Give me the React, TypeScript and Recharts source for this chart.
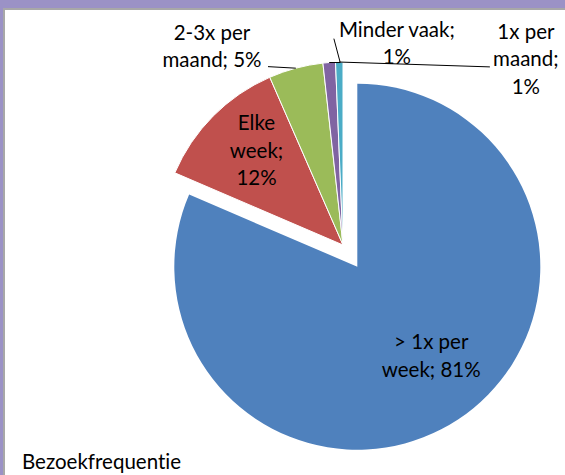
import React from 'react';
import { PieChart, Pie, Cell } from 'recharts';

const CATEGORIES = ['> 1x per week', 'Elke week', '2-3x per maand', 'Minder vaak', '1x per maand'];
const VALUES = [81.45, 12.0, 4.8, 1.1, 0.65];
const COLORS = ['#4f81bd', '#c0504d', '#9bbb59', '#8064a2', '#4bacc6'];
const TITLE = 'Bezoekfrequentie';

const data = CATEGORIES.map((name, i) => ({ name, value: VALUES[i] }));

// label placement relative to each slice (radius factor, angle shift, words per line)
const LABEL_LAYOUT: any[] = [
  { k: 0.634, dA: 6.2, words: [3, 2] },
  { k: 0.7, dA: -2.7, words: [1, 1, 1] },
  { k: 1.299, dA: 18.5, words: [2, 2], leader: { end: [56, 20] } },
  { k: 1.139, dA: -19.3, words: [2, 1], leader: { elbow: [11, 0], end: [-63, -5] } },
  { k: 1.425, dA: -45.7, words: [2, 1, 1], leader: { end: [-36, 7.8] } },
];

const W = 565;
const H = 475;
const CX = 343;
const CY = 245;
const R = 183;
const EXPLODE = 26;
const FONT = 'Lato, "Noto Sans", sans-serif';
const FS = 20.5;
const LH = 27.5;
const NOLIG = { fontVariantLigatures: 'none' as const };

const RAD = Math.PI / 180;
const polar = (cx: number, cy: number, r: number, a: number) => [cx + r * Math.cos(-a * RAD), cy + r * Math.sin(-a * RAD)];

const total = VALUES.reduce((s, v) => s + v, 0);
const blueMid = 90 - 180 * (VALUES[0] / total);
const [offX, offY] = polar(0, 0, EXPLODE, blueMid);

const makeLabel = (only: (i: number) => boolean) => (props: any) => {
  const { cx, cy, midAngle, outerRadius, percent, index, name } = props;
  if (!only(index)) return null;
  const lay = LABEL_LAYOUT[index];
  const [x, y] = polar(cx, cy, outerRadius * lay.k, midAngle + lay.dA);
  const words = `${name}; ${Math.round(percent * 100)}%`.split(' ');
  const lines: string[] = [];
  let p = 0;
  lay.words.forEach((n: number) => {
    lines.push(words.slice(p, p + n).join(' '));
    p += n;
  });
  const y0 = y - ((lines.length - 1) * LH) / 2;
  let leader = null;
  if (lay.leader) {
    const [ox, oy] = polar(cx, cy, outerRadius, midAngle);
    const pts = [[ox, oy]];
    if (lay.leader.elbow) pts.push([ox + lay.leader.elbow[0], oy + lay.leader.elbow[1]]);
    pts.push([x + lay.leader.end[0], y + lay.leader.end[1]]);
    leader = <polyline points={pts.map((q) => q.join(',')).join(' ')} stroke="#000" strokeWidth={1} fill="none" />;
  }
  return (
    <g key={`lbl-${index}`}>
      {leader}
      <text x={x} y={y0} textAnchor="middle" fontFamily={FONT} fontSize={FS} fill="#000" style={NOLIG}>
        {lines.map((l, i) => (
          <tspan key={i} x={x} y={y0 + i * LH + 7}>
            {l}
          </tspan>
        ))}
      </text>
    </g>
  );
};

export default function App() {
  return (
    <div style={{ position: 'absolute', left: 0, top: 0, width: W, height: H, background: '#9b92c6', overflow: 'hidden' }}>
      <div
        style={{
          position: 'absolute',
          left: 3,
          top: 8,
          width: W,
          height: H,
          background: '#fff',
          borderTop: '2px solid #a8a8a8',
          borderLeft: '2px solid #a8a8a8',
        }}
      />
      <div style={{ position: 'absolute', left: 0, top: 0 }}>
        <PieChart width={W} height={H} margin={{ top: 0, right: 0, bottom: 0, left: 0 }}>
          <Pie
            data={data}
            dataKey="value"
            nameKey="name"
            cx={CX}
            cy={CY}
            outerRadius={R}
            startAngle={90}
            endAngle={-270}
            stroke="#fff"
            strokeWidth={1}
            labelLine={false}
            label={makeLabel((i) => i !== 0)}
            isAnimationActive={false}
          >
            {data.map((d, i) => (
              <Cell key={`a-${i}`} fill={i === 0 ? 'none' : COLORS[i]} stroke={i === 0 ? 'none' : '#fff'} />
            ))}
          </Pie>
          <Pie
            data={data}
            dataKey="value"
            nameKey="name"
            cx={CX + offX}
            cy={CY + offY}
            outerRadius={R}
            startAngle={90}
            endAngle={-270}
            stroke="#fff"
            strokeWidth={1}
            labelLine={false}
            label={makeLabel((i) => i === 0)}
            isAnimationActive={false}
          >
            {data.map((d, i) => (
              <Cell key={`b-${i}`} fill={i === 0 ? COLORS[0] : 'none'} stroke="none" />
            ))}
          </Pie>
        </PieChart>
      </div>
      <svg width={W} height={H} style={{ position: 'absolute', left: 0, top: 0, pointerEvents: 'none' }}>
        <text x={22} y={469} fontFamily={FONT} fontSize={FS} fill="#000" style={NOLIG}>
          {TITLE}
        </text>
      </svg>
    </div>
  );
}
